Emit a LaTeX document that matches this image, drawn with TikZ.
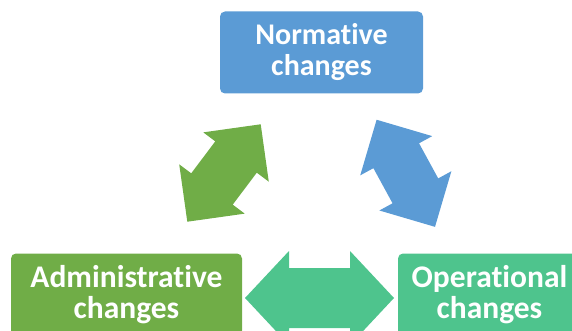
\documentclass[tikz,border=0pt]{standalone}
\usepackage{fontspec}
\setmainfont{Carlito}[Ligatures=NoCommon]
\usepackage{xcolor}
\usetikzlibrary{positioning}

\definecolor{normblue}{RGB}{91,155,213}
\definecolor{admgreen}{RGB}{112,173,71}
\definecolor{opgreen}{RGB}{78,196,141}

% double block arrow: half length / head half width / shaft half width / head length
\tikzset{
    pics/swaparrow/.style args={#1/#2/#3/#4}{code={
        \path[pic actions] (#1,0) -- (#1-#4,#2) -- (#1-#4,#3) -- (-#1+#4,#3) -- (-#1+#4,#2)
            -- (-#1,0) -- (-#1+#4,-#2) -- (-#1+#4,-#3) -- (#1-#4,-#3) -- (#1-#4,-#2) -- cycle;
    }}
}

\begin{document}
\begin{tikzpicture}[
    x=1pt, y=-1pt,
    change/.style={rectangle, rounded corners=5pt, inner sep=0pt, minimum height=82pt, align=center, text=white, font=\fontsize{31.5}{31}\selectfont\bfseries}
]
\useasboundingbox (0,0) rectangle (572,331);

% Boxes
\node[change, fill=normblue, minimum width=203pt, font=\fontsize{30}{31}\selectfont\bfseries] (normative) at (321.5,52.5) {Normative\\changes};
\node[change, fill=admgreen, minimum width=231pt] (administrative) at (126.5,294.5) {Administrative\\changes};
\node[change, fill=opgreen, minimum width=183pt] (operational) at (489.5,294.5) {Operational\\changes};

% Block arrows
\pic[fill=admgreen, rotate=53] (adm-norm) at (224,173) {swaparrow=61/41/26/41};
\pic[fill=normblue, rotate=118.6] (norm-op) at (405.8,173.3) {swaparrow=61/41/26/41};
\pic[fill=opgreen] (adm-op) at (319.5,298) {swaparrow=74.5/47/30/44};
\end{tikzpicture}
\end{document}
